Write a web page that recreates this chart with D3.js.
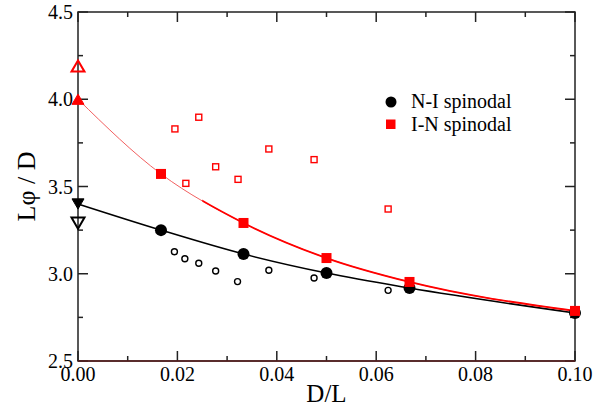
<!DOCTYPE html>
<html>
<head>
<meta charset="utf-8">
<script src="https://cdn.jsdelivr.net/npm/d3@7"></script>
<style>
  body { margin: 0; background: #fff; }
  text { font-family: "Liberation Serif", "Times New Roman", serif; }
</style>
</head>
<body>
<div id="vis"></div>
<script>
// filled symbols: spinodals, connected by fit lines
const niX = [0.0167, 0.0333, 0.05, 0.0667, 0.1];
const niY = [3.25, 3.113, 3.004, 2.918, 2.775];
const inX = [0.0167, 0.0333, 0.05, 0.0667, 0.1];
const inY = [3.572, 3.291, 3.09, 2.953, 2.787];

// extrapolated values at D/L = 0
const niZero = 3.40, niZeroOpen = 3.29;
const inZero = 4.00, inZeroOpen = 4.19;

// open symbols
const openCircX = [0.0194, 0.0215, 0.0243, 0.0277, 0.0321, 0.0384, 0.0475, 0.0624];
const openCircY = [3.126, 3.086, 3.060, 3.016, 2.955, 3.020, 2.976, 2.905];
const openSqX = [0.0195, 0.0217, 0.0243, 0.0277, 0.0322, 0.0384, 0.0475, 0.0624];
const openSqY = [3.830, 3.518, 3.897, 3.613, 3.541, 3.715, 3.654, 3.371];

const xTicks = [0, 0.02, 0.04, 0.06, 0.08, 0.10];
const xMinor = [0.01, 0.03, 0.05, 0.07, 0.09];
const yTicks = [2.5, 3.0, 3.5, 4.0, 4.5];
const yMinor = [2.75, 3.25, 3.75, 4.25];
const legendLabels = ["N-I spinodal", "I-N spinodal"];

const width = 614, height = 408;
const margin = {left: 78, right: 39, top: 12, bottom: 47};

const svg = d3.select('#vis').append('svg')
  .attr('width', width).attr('height', height);

const x = d3.scaleLinear().domain([0, 0.1]).range([margin.left, width - margin.right]);
const y = d3.scaleLinear().domain([2.5, 4.5]).range([height - margin.bottom, margin.top]);

// ticks, inward on all four sides
function ticks(vals, len, side) {
  vals.forEach(v => {
    if (side === 'b') svg.append('line').attr('x1', x(v)).attr('x2', x(v)).attr('y1', y(2.5)).attr('y2', y(2.5) - len);
    if (side === 't') svg.append('line').attr('x1', x(v)).attr('x2', x(v)).attr('y1', y(4.5)).attr('y2', y(4.5) + len);
    if (side === 'l') svg.append('line').attr('x1', x(0)).attr('x2', x(0) + len).attr('y1', y(v)).attr('y2', y(v));
    if (side === 'r') svg.append('line').attr('x1', x(0.1)).attr('x2', x(0.1) - len).attr('y1', y(v)).attr('y2', y(v));
  });
}
['b', 't'].forEach(s => { ticks(xTicks, 10, s); ticks(xMinor, 5, s); });
['l', 'r'].forEach(s => { ticks(yTicks, 10, s); ticks(yMinor, 5, s); });
svg.selectAll('line').attr('stroke', '#222').attr('stroke-width', 1.5);

// frame
svg.append('rect')
  .attr('x', x(0)).attr('y', y(4.5))
  .attr('width', x(0.1) - x(0)).attr('height', y(2.5) - y(4.5))
  .attr('fill', 'none').attr('stroke', '#222').attr('stroke-width', 1.5);
svg.append('line')
  .attr('x1', x(0)).attr('x2', x(0.1)).attr('y1', y(2.5)).attr('y2', y(2.5))
  .attr('stroke', '#5a1e1e').attr('stroke-width', 1.5);

// tick labels
svg.selectAll('.xl').data(xTicks).join('text')
  .attr('x', d => x(d)).attr('y', y(2.5) + 20)
  .attr('text-anchor', 'middle').attr('font-size', 20)
  .text(d => d3.format('.2f')(d));
svg.selectAll('.yl').data(yTicks).join('text')
  .attr('x', x(0) - 5).attr('y', d => y(d) + 7)
  .attr('text-anchor', 'end').attr('font-size', 20)
  .text(d => d3.format('.1f')(d));

svg.append('text')
  .attr('x', (x(0) + x(0.1)) / 2).attr('y', 402)
  .attr('text-anchor', 'middle').attr('font-size', 25)
  .text('D/L');
svg.append('text')
  .attr('transform', `translate(35,${(y(2.5) + y(4.5)) / 2}) rotate(-90)`)
  .attr('text-anchor', 'middle').attr('font-size', 26)
  .text('Lφ / D');

// fit curves through the zero-value and spinodal points
const line = d3.line().x(d => x(d[0])).y(d => y(d[1])).curve(d3.curveMonotoneX);
const niPts = [[0, niZero]].concat(niX.map((v, i) => [v, niY[i]]));
const inPts = [[0, inZero]].concat(inX.map((v, i) => [v, inY[i]]));

svg.append('clipPath').attr('id', 'thick')
  .append('rect').attr('x', x(0.025)).attr('y', 0).attr('width', width).attr('height', height);

svg.append('path').attr('d', line(niPts))
  .attr('fill', 'none').attr('stroke', '#000').attr('stroke-width', 1.6);
svg.append('path').attr('d', line(inPts))
  .attr('fill', 'none').attr('stroke', '#f26060').attr('stroke-width', 1);
svg.append('path').attr('d', line(inPts)).attr('clip-path', 'url(#thick)')
  .attr('fill', 'none').attr('stroke', '#f00').attr('stroke-width', 1.8);

// open symbols
svg.selectAll('.oc').data(openCircX).join('circle')
  .attr('cx', d => x(d)).attr('cy', (d, i) => y(openCircY[i])).attr('r', 3)
  .attr('fill', 'none').attr('stroke', '#000').attr('stroke-width', 1.4);
svg.selectAll('.os').data(openSqX).join('rect')
  .attr('x', d => x(d) - 3).attr('y', (d, i) => y(openSqY[i]) - 3)
  .attr('width', 6).attr('height', 6)
  .attr('fill', 'none').attr('stroke', '#f00').attr('stroke-width', 1.4);

// filled symbols
svg.selectAll('.ni').data(niX).join('circle')
  .attr('cx', d => x(d)).attr('cy', (d, i) => y(niY[i])).attr('r', 6)
  .attr('fill', '#000');
svg.selectAll('.in').data(inX).join('rect')
  .attr('x', d => x(d) - 5).attr('y', (d, i) => y(inY[i]) - 5)
  .attr('width', 10).attr('height', 10)
  .attr('fill', '#f00');

// triangles at D/L = 0
function tri(v, up, filled, color, s) {
  const cx = x(0), cy = y(v), h = s * 0.85;
  const pts = up
    ? [[cx - s / 2, cy + h / 2], [cx + s / 2, cy + h / 2], [cx, cy - h / 2]]
    : [[cx - s / 2, cy - h / 2], [cx + s / 2, cy - h / 2], [cx, cy + h / 2]];
  svg.append('polygon').attr('points', pts.map(p => p.join(',')).join(' '))
    .attr('fill', filled ? color : 'none')
    .attr('stroke', color).attr('stroke-width', filled ? 1 : 2);
}
tri(inZero, true, true, '#f00', 12);
tri(inZeroOpen, true, false, '#f00', 13);
tri(niZero, false, true, '#000', 12);
tri(niZeroOpen, false, false, '#000', 13);

// legend
const lg = svg.append('g');
lg.append('circle').attr('cx', 391).attr('cy', 102).attr('r', 5.5).attr('fill', '#000');
lg.append('rect').attr('x', 386).attr('y', 119.5).attr('width', 9.5).attr('height', 9.5).attr('fill', '#f00');
lg.selectAll('text').data(legendLabels).join('text')
  .attr('x', 411).attr('y', (d, i) => 108 + i * 23)
  .attr('font-size', 20)
  .text(d => d);
</script>
</body>
</html>
